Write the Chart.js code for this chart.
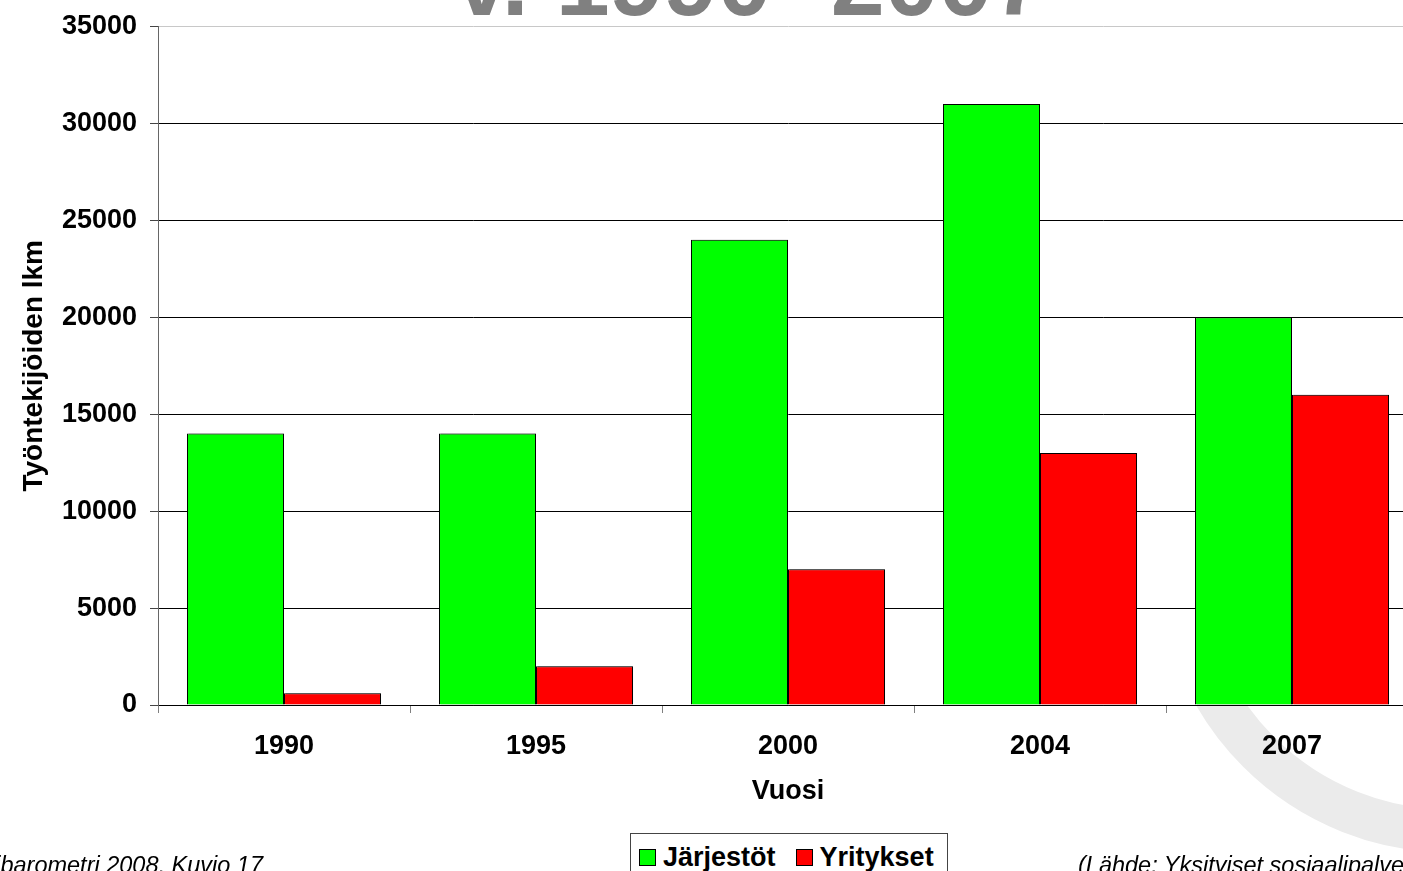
<!DOCTYPE html>
<html>
<head>
<meta charset="utf-8">
<script src="https://cdn.jsdelivr.net/npm/chart.js@4"></script>
<style>
  html, body { margin: 0; padding: 0; background: #fff; overflow: hidden; width: 1403px; height: 871px; }
  body { position: relative; font-family: "Liberation Sans", Arial, sans-serif; }
  #wrap { position: absolute; left: 0; top: 0; width: 1430px; height: 871px; }
  #legend { position: absolute; left: 630px; top: 833px; width: 318px; height: 50px; border: 1px solid #444; background: #fff;
            display: flex; align-items: flex-start; padding-top: 8px; box-sizing: border-box; }
  .item { display: flex; align-items: center; font-weight: bold; font-size: 27px; color: #000; margin-left: 8px; }
  .item + .item { margin-left: 20px; }
  .box { width: 15px; height: 15px; border: 1px solid #000; margin-right: 7px; }
  .note { position: absolute; font-style: italic; font-size: 23.5px; color: #000; white-space: nowrap; }
</style>
</head>
<body>
<div id="wrap"><canvas id="BarChart" width="1430" height="871"></canvas></div>
<div id="legend"></div>
<div class="note" style="right:1140px; top:852px;">Sosiaalibarometri 2008, Kuvio 17</div>
<div class="note" style="left:1078px; top:852px;">(Lähde: Yksityiset sosiaalipalvelut 2007)</div>
<script>
const years = ['1990', '1995', '2000', '2004', '2007'];
const jarjestot = [14000, 14000, 24000, 31000, 20000];
const yritykset = [600, 2000, 7000, 13000, 16000];
const seriesNames = ['Järjestöt', 'Yritykset'];
const seriesColors = ['#00ff00', '#ff0000'];

const font = '"Liberation Sans", Arial, sans-serif';
const ctx = document.getElementById('BarChart');

// grey ring in the lower right corner, only below the plot
const watermark = {
  id: 'watermark',
  beforeDraw(chart) {
    const c = chart.ctx, area = chart.chartArea;
    c.save();
    c.beginPath();
    c.rect(0, area.bottom + 1, chart.width, chart.height);
    c.clip();
    c.beginPath();
    c.arc(1450, 560, 271, 0, Math.PI * 2);
    c.lineWidth = 43;
    c.strokeStyle = '#ebebeb';
    c.stroke();
    c.restore();
  }
};

// big title that sits cut off at the top
const bigTitle = {
  id: 'bigTitle',
  afterDraw(chart) {
    const c = chart.ctx;
    c.save();
    c.font = 'bold 97px ' + font;
    c.fillStyle = '#808080';
    c.textAlign = 'left';
    c.textBaseline = 'alphabetic';
    c.fillText('v. 1990 -2007', 455, 15);
    c.restore();
  }
};

const barShadow = {
  id: 'barShadow',
  beforeDatasetsDraw(chart) {
    const c = chart.ctx;
    c.save();
    c.shadowColor = 'rgba(0,0,0,0.35)';
    c.shadowOffsetX = 2;
    c.shadowOffsetY = 0;
    c.shadowBlur = 0;
  },
  afterDatasetsDraw(chart) {
    chart.ctx.restore();
  }
};

const bar_data = {
  labels: years,
  datasets: [
    { label: seriesNames[0], data: jarjestot, backgroundColor: seriesColors[0], borderColor: '#000', borderWidth: 1 },
    { label: seriesNames[1], data: yritykset, backgroundColor: seriesColors[1], borderColor: '#000', borderWidth: 1 }
  ]
};

const bar_config = {
  type: 'bar',
  data: bar_data,
  options: {
    responsive: false,
    animation: false,
    categoryPercentage: 0.77,
    barPercentage: 1,
    layout: { padding: { left: 0, top: 0, right: 12, bottom: 63 } },
    scales: {
      x: {
        grid: { drawOnChartArea: false, tickLength: 8, color: '#808080' },
        border: { color: '#000', width: 1 },
        ticks: { padding: 17, color: '#000', font: { family: font, size: 27, weight: 'bold' } },
        title: { display: true, text: 'Vuosi', color: '#000', padding: { top: 0, bottom: 0 },
                 font: { family: font, size: 27, weight: 'bold' } },
        afterFit(scale) { scale.height = 103; }
      },
      y: {
        min: 0,
        max: 35000,
        ticks: {
          stepSize: 5000, padding: 13, color: '#000',
          font: { family: font, size: 27, weight: 'bold', lineHeight: 1 },
          callback: (v) => String(v)
        },
        grid: {
          tickLength: 8,
          color: (c) => (c.tick && c.tick.value === 35000 ? '#c8c8c8' : '#000'),
          tickColor: '#444'
        },
        border: { color: '#666', width: 1 },
        title: { display: true, text: 'Työntekijöiden lkm', color: '#000', padding: { top: 17, bottom: 0 },
                 font: { family: font, size: 28, weight: 'bold' } },
        afterFit(scale) { scale.width = 158; }
      }
    },
    plugins: {
      legend: { display: false },
      title: { display: false },
      tooltip: { enabled: false }
    }
  },
  plugins: [watermark, barShadow, bigTitle]
};

new Chart(ctx, bar_config);

// legend box built from the series
const legendEl = document.getElementById('legend');
seriesNames.forEach((name, i) => {
  const item = document.createElement('div');
  item.className = 'item';
  item.innerHTML = '<span class="box" style="background:' + seriesColors[i] + '"></span>' + name;
  legendEl.appendChild(item);
});
</script>
</body>
</html>
